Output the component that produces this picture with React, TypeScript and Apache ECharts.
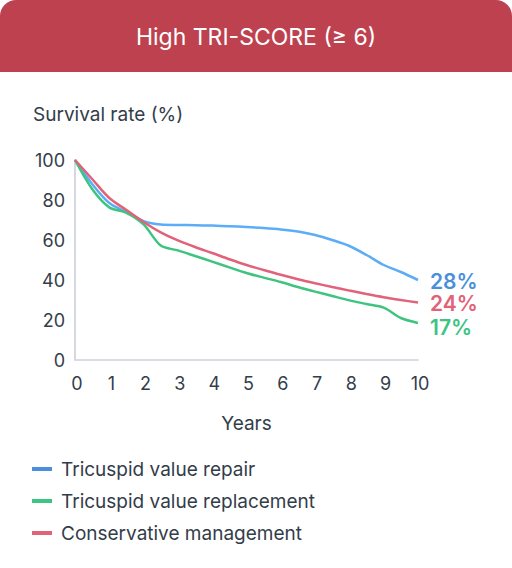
import React, { useEffect, useRef } from 'react';
import * as echarts from 'echarts';

const seriesNames = ['Tricuspid value repair', 'Tricuspid value replacement', 'Conservative management'];
const lineColors = ['#5AADF6', '#3FC47F', '#E0637A'];
const labelColors = ['#4A8FDC', '#3DC483', '#E0637A'];
const endLabels = ['28%', '17%', '24%'];

// years, every half year
const years = [0, 0.5, 1, 1.5, 2, 2.5, 3, 3.5, 4, 4.5, 5, 5.5, 6, 6.5, 7, 7.5, 8, 8.5, 9, 9.5, 10];
const repairValues = [100, 88, 78.5, 74, 69.4, 67.7, 67.5, 67.4, 67.2, 66.9, 66.5, 66, 65.3, 64.2, 62.5, 60, 57, 52.5, 47.5, 44, 40];
const replacementValues = [100, 85.5, 76.3, 73.6, 67.8, 57.2, 54.8, 52, 49.2, 46.3, 43.5, 41.2, 39, 36.5, 34.2, 32, 29.8, 28, 26.2, 21, 18.5];
const conservativeValues = [100, 90.5, 81, 75, 69, 63.8, 59.8, 56.5, 53.5, 50.4, 47.5, 45, 42.6, 40.4, 38.4, 36.5, 34.7, 33, 31.4, 30, 28.7];
const allValues = [repairValues, replacementValues, conservativeValues];

const yTicks = { min: 0, max: 100, interval: 20 };
const xTicks = { min: 0, max: 10, interval: 1 };

const textColor = '#333D4A';
const font = 'Inter, "Noto Sans", sans-serif';

const App: React.FC = () => {
  const chartRef = useRef<HTMLDivElement>(null);

  useEffect(() => {
    if (!chartRef.current) return;
    const chart = echarts.init(chartRef.current, undefined, { renderer: 'svg' });

    const option: echarts.EChartsOption = {
      animation: false,
      backgroundColor: '#fff',
      textStyle: { fontFamily: font },
      graphic: [
        {
          type: 'rect',
          left: 0,
          top: 0,
          shape: { width: 512, height: 72, r: [16, 16, 0, 0] },
          style: { fill: '#BE4150' },
        },
        {
          type: 'text',
          left: 'center',
          top: 25,
          style: { text: 'High TRI-SCORE (≥ 6)', fill: '#fff', fontSize: 23, fontFamily: font },
        },
        {
          type: 'text',
          left: 33,
          top: 105,
          style: { text: 'Survival rate (%)', fill: textColor, fontSize: 19, fontFamily: font },
        },
      ],
      grid: { left: 75, right: 94, top: 160, bottom: 208 },
      xAxis: {
        type: 'value',
        ...xTicks,
        name: 'Years',
        nameLocation: 'middle',
        nameGap: 54,
        nameTextStyle: { color: textColor, fontSize: 19 },
        axisLine: { show: true, lineStyle: { color: '#DADDE1', width: 2 } },
        axisTick: { show: false },
        splitLine: { show: false },
        axisLabel: { color: textColor, fontSize: 18, margin: 14, padding: [0, 0, 0, 4] },
      },
      yAxis: {
        type: 'value',
        ...yTicks,
        axisLine: { show: true, lineStyle: { color: '#D5D8DC', width: 2 } },
        axisTick: { show: false },
        splitLine: { show: false },
        axisLabel: { color: textColor, fontSize: 18, margin: 10 },
      },
      legend: {
        orient: 'vertical',
        left: 32,
        top: 459,
        padding: 0,
        itemGap: 12,
        itemWidth: 20,
        itemHeight: 4,
        icon: 'rect',
        textStyle: { color: textColor, fontSize: 19, lineHeight: 20, padding: [0, 0, 0, 4] },
        data: seriesNames.map((name, i) => ({ name, itemStyle: { color: labelColors[i] } })),
      },
      series: seriesNames.map((name, i) => ({
        name,
        type: 'line',
        data: years.map((x, j) => [x, allValues[i][j]]),
        smooth: 0.3,
        showSymbol: false,
        color: lineColors[i],
        lineStyle: { color: lineColors[i], width: 2.5 },
        endLabel: {
          show: true,
          formatter: () => endLabels[i],
          color: labelColors[i],
          fontSize: 21,
          fontWeight: 600,
          distance: 12,
          offset: [0, i === 1 ? 4 : 1],
        },
      })),
    };

    chart.setOption(option);
    return () => chart.dispose();
  }, []);

  return (
    <div
      ref={chartRef}
      style={{ position: 'fixed', left: 0, top: 0, width: 512, height: 568 }}
    />
  );
};

export default App;
